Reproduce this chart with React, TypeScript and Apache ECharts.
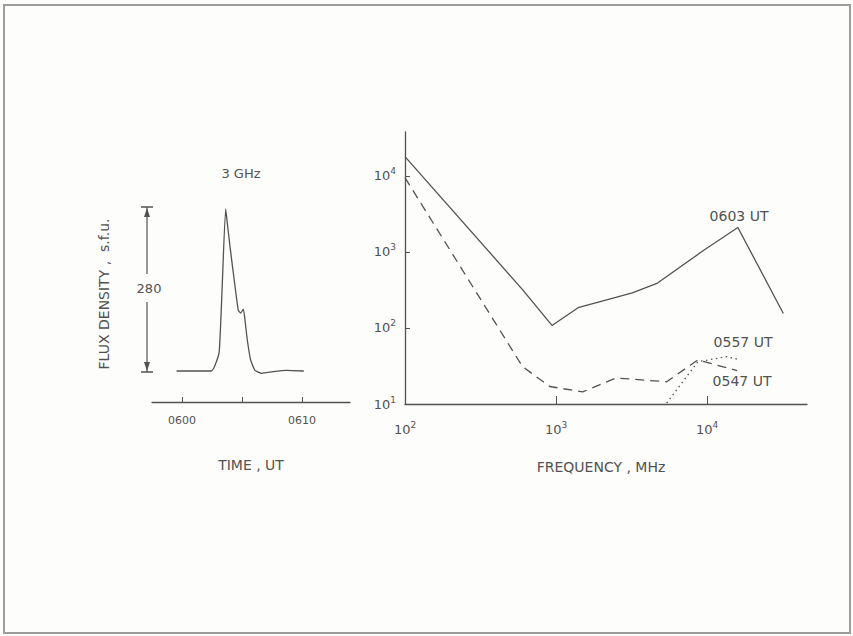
import React, { useEffect, useRef } from "react";
import * as echarts from "echarts";

// Left panel: 3 GHz time profile (minutes after 0600 UT, flux above background in s.f.u.)
const timeMin = [-0.45, 2.45, 3.1, 3.64, 3.78, 4.0, 4.42, 4.69, 4.89, 5.11, 5.25, 5.44, 5.72, 6.08, 6.64, 7.61, 8.72, 10.15];
const flux3GHz = [0, 0, 33, 280, 255, 215, 146, 105, 100, 107, 88, 54, 19, 1, -4, -1, 1, 0];
const timeTicks = [0, 5, 10];
const timeLabels = ["0600", "", "0610"];

// Right panel: spectra (frequency in MHz, flux density in s.f.u.)
const freq0603 = [100, 600, 940, 1400, 3200, 4700, 9300, 16000, 32000];
const flux0603 = [18000, 320, 108, 185, 290, 390, 1020, 2100, 155];
const freq0547 = [100, 600, 910, 1500, 2500, 5400, 8700, 15800];
const flux0547 = [9500, 31, 17, 14.4, 22, 19.6, 38, 27.5];
const freq0557 = [5400, 8700, 13500, 15800];
const flux0557 = [10.3, 36, 42, 39];
const freqTicks = [100, 1000, 10000];
const fluxTicks = [10, 100, 1000, 10000];

const INK = "#525252";
const FONT = "'DejaVu Sans', 'Liberation Sans', sans-serif";

const zip = (xs: number[], ys: number[]) => xs.map((x, i) => [x, ys[i]]);

const powLabel = (v: number) => {
  const e = Math.round(Math.log10(v));
  return `{b|10}{s|${e}}`;
};
const powRich = {
  b: { fontSize: 13, color: INK, fontFamily: FONT, lineHeight: 18 },
  s: { fontSize: 9, color: INK, fontFamily: FONT, lineHeight: 10, verticalAlign: "top" },
};

export default function App() {
  const ref = useRef<HTMLDivElement>(null);
  useEffect(() => {
    document.body.style.margin = "0";
    const chart = echarts.init(ref.current!, undefined, { renderer: "svg" });
    const lineStyle = { color: INK, width: 1.3 };
    const txt = (text: string, x: number, y: number, size = 14, extra: any = {}) => ({
      type: "text",
      x,
      y,
      ...extra,
      style: { text, font: `${size}px ${FONT}`, fill: INK, align: "center", verticalAlign: "middle" },
    });
    chart.setOption({
      animation: false,
      backgroundColor: "#fdfdfb",
      textStyle: { fontFamily: FONT, color: INK },
      grid: [
        { left: 152, top: 209, width: 198, height: 193 },
        { left: 405, top: 132, width: 402, height: 272 },
      ],
      xAxis: [
        {
          gridIndex: 0,
          type: "value",
          min: -2.5,
          max: 14,
          splitLine: { show: false },
          axisLine: { onZero: false, lineStyle: { color: INK, width: 1.3 } },
          axisTick: { inside: true, length: 5, customValues: timeTicks, lineStyle: { color: INK } },
          axisLabel: {
            customValues: timeTicks,
            margin: 13,
            fontSize: 11,
            color: INK,
            fontFamily: FONT,
            formatter: (v: number) => timeLabels[timeTicks.indexOf(v)] ?? "",
          },
        },
        {
          gridIndex: 1,
          type: "log",
          logBase: 10,
          min: 100,
          max: 45900,
          splitLine: { show: false },
          axisLine: { onZero: false, lineStyle: { color: INK, width: 1.3 } },
          axisTick: { inside: true, length: 8, customValues: [1000, 10000], lineStyle: { color: INK } },
          axisLabel: {
            customValues: freqTicks,
            margin: 16,
            formatter: powLabel,
            rich: powRich,
          },
        },
      ],
      yAxis: [
        { gridIndex: 0, type: "value", min: -53.6, max: 280, show: false },
        {
          gridIndex: 1,
          type: "log",
          logBase: 10,
          min: 10,
          max: 37900,
          splitLine: { show: false },
          axisLine: { onZero: false, lineStyle: { color: INK, width: 1.3 } },
          axisTick: { inside: true, length: 5, customValues: [100, 1000, 10000], lineStyle: { color: INK } },
          axisLabel: {
            customValues: fluxTicks,
            margin: 9,
            formatter: powLabel,
            rich: powRich,
          },
        },
      ],
      series: [
        {
          name: "3 GHz",
          type: "line",
          xAxisIndex: 0,
          yAxisIndex: 0,
          data: zip(timeMin, flux3GHz),
          symbol: "none",
          smooth: 0.15,
          lineStyle,
        },
        {
          name: "0603 UT",
          type: "line",
          xAxisIndex: 1,
          yAxisIndex: 1,
          data: zip(freq0603, flux0603),
          symbol: "none",
          lineStyle,
        },
        {
          name: "0547 UT",
          type: "line",
          xAxisIndex: 1,
          yAxisIndex: 1,
          data: zip(freq0547, flux0547),
          symbol: "none",
          lineStyle: { ...lineStyle, type: [9, 6] },
        },
        {
          name: "0557 UT",
          type: "line",
          xAxisIndex: 1,
          yAxisIndex: 1,
          data: zip(freq0557, flux0557),
          symbol: "none",
          lineStyle: { ...lineStyle, type: [1.5, 3.5] },
        },
      ],
      graphic: [
        { type: "rect", shape: { x: 4, y: 5, width: 846, height: 628 }, style: { fill: "none", stroke: "#9c9c9c", lineWidth: 2 }, silent: true },
        txt("3 GHz", 241, 173, 13),
        txt("TIME , UT", 251, 465, 14),
        txt("FREQUENCY , MHz", 601, 467, 14),
        txt("FLUX DENSITY ,  s.f.u.", 104, 294, 14, { rotation: Math.PI / 2 }),
        txt("0603 UT", 739, 216, 14),
        txt("0557 UT", 743, 342, 14),
        txt("0547 UT", 742, 381, 14),
        // 280 s.f.u. scale bar
        { type: "line", shape: { x1: 141, y1: 207, x2: 153, y2: 207 }, style: { stroke: INK, lineWidth: 1.5 } },
        { type: "line", shape: { x1: 141, y1: 372, x2: 153, y2: 372 }, style: { stroke: INK, lineWidth: 1.5 } },
        { type: "line", shape: { x1: 147, y1: 207, x2: 147, y2: 274 }, style: { stroke: INK, lineWidth: 1.2 } },
        { type: "line", shape: { x1: 147, y1: 302, x2: 147, y2: 372 }, style: { stroke: INK, lineWidth: 1.2 } },
        { type: "polygon", shape: { points: [[147, 208], [144, 217], [150, 217]] }, style: { fill: INK } },
        { type: "polygon", shape: { points: [[147, 371], [144, 362], [150, 362]] }, style: { fill: INK } },
        txt("280", 149, 288, 13),
      ],
    });
    return () => chart.dispose();
  }, []);
  return <div ref={ref} style={{ position: "absolute", left: 0, top: 0, width: 853, height: 636 }} />;
}
